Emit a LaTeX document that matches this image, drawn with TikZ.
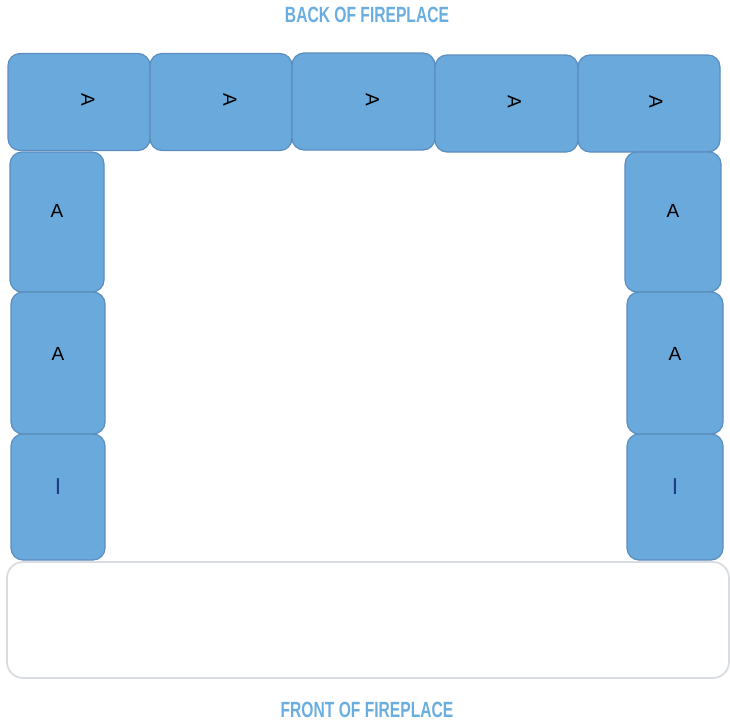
\documentclass[tikz,border=0pt]{standalone}
\usepackage{fontspec}
\setmainfont{Liberation Sans}
\newfontfamily\titlefont[FakeStretch=0.71]{Liberation Sans}
\usepackage{xcolor}
\usepackage{tikz}
\usetikzlibrary{positioning}

\definecolor{brickblue}{HTML}{6AA9DC}
\definecolor{brickedge}{HTML}{5B8EBE}
\definecolor{titleblue}{HTML}{6AAEE0}
\definecolor{hearthgray}{HTML}{D9DDE1}
\definecolor{inkblue}{HTML}{1F3C88}

\tikzset{
	brick/.style={draw=brickedge, fill=brickblue, line width=1.2pt, rounded corners=12pt, inner sep=0pt},
	letter/.style={font=\fontsize{19}{19}\selectfont, inner sep=0pt},
	tallletter/.style={font=\fontsize{23}{23}\selectfont, text=inkblue, inner sep=0pt},
	sidetitle/.style={font=\titlefont\bfseries\fontsize{22}{22}\selectfont, text=titleblue, inner sep=0pt}
}

\begin{document}
\begin{tikzpicture}[x=1pt, y=-1pt]
		\useasboundingbox (0,0) rectangle (730,724);

		% Back row of bricks
		\node[brick, minimum width=142pt, minimum height=97pt] (top1) at (79,102) {};
		\node[brick, minimum width=142pt, minimum height=97pt] (top2) at (221,102) {};
		\node[brick, minimum width=143pt, minimum height=97pt] (top3) at (363.5,101.5) {};
		\node[brick, minimum width=143pt, minimum height=97pt] (top4) at (506.5,103.5) {};
		\node[brick, minimum width=142pt, minimum height=97pt] (top5) at (649,103.5) {};

		% Left side
		\node[brick, minimum width=94pt, minimum height=140pt] (left1) at (57,222) {};
		\node[brick, minimum width=94pt, minimum height=142pt] (left2) at (58,363) {};
		\node[brick, minimum width=94pt, minimum height=126pt] (left3) at (58,497) {};

		% Right side
		\node[brick, minimum width=96pt, minimum height=140pt] (right1) at (673,222) {};
		\node[brick, minimum width=96pt, minimum height=142pt] (right2) at (675,363) {};
		\node[brick, minimum width=96pt, minimum height=126pt] (right3) at (675,497) {};

		% Hearth
		\node[draw=hearthgray, fill=white, line width=1.8pt, rounded corners=16pt,
			minimum width=722pt, minimum height=116pt] (hearth) at (368,620) {};

		% Brick letters
		\foreach \b/\dx in {top1/9, top2/9, top3/9, top4/8, top5/7}
			\node[letter, rotate=-90] at ([xshift=\dx pt, yshift=2pt]\b.center) {A};
		\node[letter] at ([yshift=11pt]left1.center) {A};
		\node[letter] at ([yshift=9pt]left2.center) {A};
		\node[tallletter] at ([yshift=10pt]left3.center) {I};
		\node[letter] at ([yshift=11pt]right1.center) {A};
		\node[letter] at ([yshift=9pt]right2.center) {A};
		\node[tallletter] at ([yshift=10pt]right3.center) {I};

		% Titles
		\node[sidetitle] (back) at (367,15) {BACK OF FIREPLACE};
		\node[sidetitle] (front) at (367,710) {FRONT OF FIREPLACE};
	\end{tikzpicture}
\end{document}
